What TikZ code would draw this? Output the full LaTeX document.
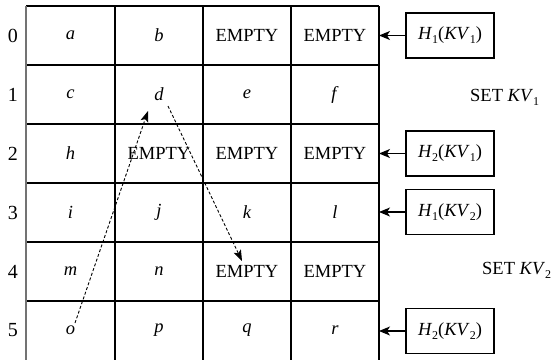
\documentclass[tikz,border=0pt]{standalone}
\usepackage{fontspec}
\setmainfont{Liberation Serif}
\usetikzlibrary{arrows.meta}
\newcommand{\mysub}[1]{\raisebox{-0.22em}{\fontsize{12}{12}\selectfont #1}}
\begin{document}
\begin{tikzpicture}[x=1pt,y=-1pt,
  cell/.style={font=\fontsize{18.5}{18.5}\selectfont, inner sep=0pt},
  idx/.style={font=\fontsize{20}{20}\selectfont, inner sep=0pt},
  hbox/.style={draw, line width=1.1pt, minimum width=88pt, minimum height=45pt, inner sep=0pt, font=\fontsize{18.5}{18.5}\selectfont},
  setlbl/.style={font=\fontsize{18.5}{18.5}\selectfont, inner sep=0pt, anchor=west},
  harrow/.style={line width=1.2pt, -{Stealth[length=11pt,width=9pt,inset=3pt]}},
  darrow/.style={line width=0.9pt, dash pattern=on 3pt off 2pt, -{Stealth[length=11pt,width=8pt,inset=2.5pt]}},
  grid/.style={line width=1.4pt}]
\useasboundingbox (0,0) rectangle (554,359);
% grid
\draw[grid] (26,6) -- (379,6);
\foreach \y in {65,124,183,242,301} \draw[grid] (26,\y) -- (379,\y);
\draw[line width=1.4pt, black!55] (26,6) -- (26,362);
\foreach \x in {115,203,291,379} \draw[grid] (\x,6) -- (\x,362);
\coordinate (tr) at (379,0);
% row indices
\node[idx] (r0) at (13,35.5) {0};
\node[idx] (r1) at (13,94.5) {1};
\node[idx] (r2) at (13,153.5) {2};
\node[idx] (r3) at (13,212.5) {3};
\node[idx] (r4) at (13,271.5) {4};
\node[idx] (r5) at (13,330.5) {5};
% cells
\node[cell] (a) at (70.5,35.5) {\textit{a}};
\node[cell] (b) at (159,35.5) {\textit{b}};
\node[cell] (e02) at (247,35.5) {EMPTY};
\node[cell] (e03) at (335,35.5) {EMPTY};
\node[cell] (c) at (70.5,94.5) {\textit{c}};
\node[cell] (d) at (159,94.5) {\textit{d}};
\node[cell] (e) at (247,94.5) {\textit{e}};
\node[cell] (f) at (335,94.5) {\textit{f}};
\node[cell] (h) at (70.5,153.5) {\textit{h}};
\node[cell] (e21) at (159,153.5) {EMPTY};
\node[cell] (e22) at (247,153.5) {EMPTY};
\node[cell] (e23) at (335,153.5) {EMPTY};
\node[cell] (i) at (70.5,212.5) {\textit{i}};
\node[cell] (j) at (159,212.5) {\textit{j}};
\node[cell] (k) at (247,212.5) {\textit{k}};
\node[cell] (l) at (335,212.5) {\textit{l}};
\node[cell] (m) at (70.5,271.5) {\textit{m}};
\node[cell] (n) at (159,271.5) {\textit{n}};
\node[cell] (e42) at (247,271.5) {EMPTY};
\node[cell] (e43) at (335,271.5) {EMPTY};
\node[cell] (o) at (70.5,330.5) {\textit{o}};
\node[cell] (p) at (159,330.5) {\textit{p}};
\node[cell] (q) at (247,330.5) {\textit{q}};
\node[cell] (r) at (335,330.5) {\textit{r}};
% hash boxes
\node[hbox] (h11) at (450,35.5) {\textit{H}\mysub{1}(\textit{KV}\mysub{1})};
\node[hbox] (h21) at (450,153.5) {\textit{H}\mysub{2}(\textit{KV}\mysub{1})};
\node[hbox] (h12) at (450,212) {\textit{H}\mysub{1}(\textit{KV}\mysub{2})};
\node[hbox] (h22) at (450,331) {\textit{H}\mysub{2}(\textit{KV}\mysub{2})};
\node[setlbl] (s1) at (470,97) {SET \textit{KV}\mysub{1}};
\node[setlbl] (s2) at (482,270) {SET \textit{KV}\mysub{2}};
% arrows
\foreach \n in {h11,h21,h12,h22} \draw[harrow] (\n.west) -- (\n.west -| tr);
\draw[darrow] ([shift={(4.5,-7.5)}]o.center) -- ([shift={(-11,16.5)}]d.center);
\draw[darrow] ([shift={(9,11.5)}]d.center) -- ([shift={(-5,-10.5)}]e42.center);
\end{tikzpicture}
\end{document}
